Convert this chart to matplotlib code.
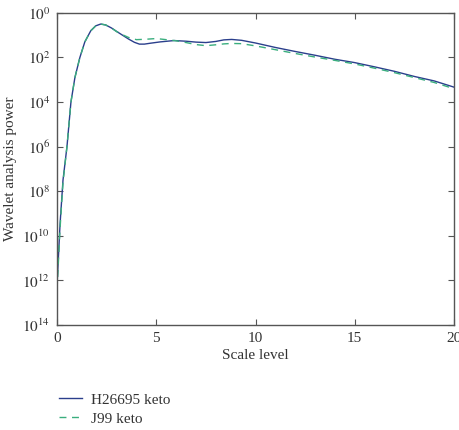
"""Wavelet analysis power vs scale level for two H. pylori keto strains."""

import numpy as np
import matplotlib.pyplot as plt
from matplotlib.ticker import FixedLocator, FuncFormatter

# scale levels and power exponents (power = 10**-exp)
h26695_scale = [0, 0.15, 0.3, 0.5, 0.7, 0.9, 1.15, 1.4, 1.7, 1.95, 2.2, 2.45, 2.75, 3.0, 3.3, 3.6,
                3.9, 4.15, 4.4, 4.7, 5.2, 5.9, 6.5, 7.0, 7.5, 8.0, 8.4, 8.8, 9.3, 10, 11, 12, 13, 14,
                15, 16, 17, 18, 19, 20]
h26695_exp = [12.2, 9.5, 7.5, 6.0, 4.0, 2.9, 2.0, 1.3, 0.8, 0.58, 0.5, 0.54, 0.68, 0.83, 1.0, 1.17,
              1.32, 1.4, 1.4, 1.36, 1.3, 1.24, 1.27, 1.31, 1.33, 1.28, 1.21, 1.19, 1.23, 1.35, 1.55,
              1.73, 1.9, 2.08, 2.23, 2.42, 2.62, 2.85, 3.05, 3.33]

j99_scale = [0, 0.15, 0.3, 0.5, 0.7, 0.9, 1.15, 1.4, 1.7, 1.95, 2.2, 2.45, 2.75, 3.0, 3.3, 3.6,
             4.0, 4.5, 5.0, 5.5, 6.0, 6.5, 7.0, 7.5, 8.0, 8.4, 8.8, 9.3, 10, 11, 12, 13, 14, 15,
             16, 17, 18, 19, 20]
j99_exp = [12.4, 9.7, 7.6, 6.0, 4.0, 2.9, 2.0, 1.3, 0.8, 0.58, 0.5, 0.54, 0.68, 0.84, 0.98, 1.1,
           1.2, 1.18, 1.15, 1.2, 1.25, 1.33, 1.42, 1.47, 1.43, 1.39, 1.37, 1.38, 1.48, 1.65, 1.82,
           1.98, 2.13, 2.29, 2.48, 2.68, 2.9, 3.12, 3.4]

y_ticks = [0, 2, 4, 6, 8, 10, 12, 14]
x_ticks = [0, 5, 10, 15, 20]

plt.rcParams["font.family"] = ["Liberation Serif", "DejaVu Serif"]
plt.rcParams["mathtext.fontset"] = "stix"

fig = plt.figure(figsize=(4.6, 4.3), dpi=100)
ax = fig.add_axes([0.124, 0.244, 0.863, 0.726])

ax.plot(h26695_scale, 10.0 ** -np.array(h26695_exp), color="#2b3f8c", lw=1.0, label="H26695 keto")
ax.plot(j99_scale, 10.0 ** -np.array(j99_exp), color="#3aae7e", lw=1.0, ls=(0, (5, 4)), label="J99 keto")

ax.set_yscale("log")
ax.set_ylim(1e-14, 1e0)
ax.set_xlim(0, 20)
ax.yaxis.set_major_locator(FixedLocator([10.0 ** -k for k in y_ticks]))
ax.yaxis.set_minor_locator(FixedLocator([]))
ax.yaxis.set_major_formatter(FuncFormatter(lambda v, _: r"$10^{%d}$" % round(-np.log10(v))))
ax.set_xticks(x_ticks)

ax.tick_params(direction="in", top=True, right=True, length=4, width=0.8, colors="#555555",
               labelcolor="#333333", labelsize=11, pad=5)
for side in ax.spines.values():
    side.set_color("#555555")
    side.set_linewidth(1.0)

ax.set_xlabel("Scale level", fontsize=11, color="#333333", labelpad=3)
ax.set_ylabel("Wavelet analysis power", fontsize=11, color="#333333", labelpad=4)

fig.legend(loc="upper left", bbox_to_anchor=(0.098, 0.118), frameon=False, fontsize=11,
           handlelength=1.5, handletextpad=0.6, labelspacing=0.35, labelcolor="#333333")

fig.savefig("out.png", dpi=100)
plt.close(fig)
